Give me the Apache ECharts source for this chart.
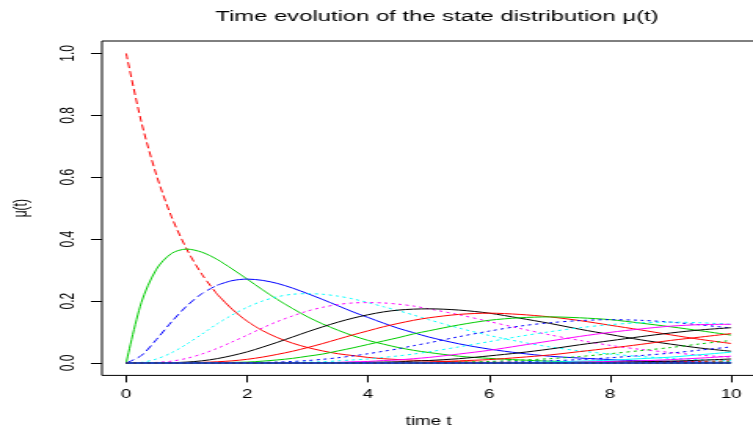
<!DOCTYPE html>
<html><head><meta charset="utf-8">
<script src="https://cdn.jsdelivr.net/npm/echarts@6/dist/echarts.min.js"></script>
<style>
html,body{margin:0;padding:0;background:#fff;overflow:hidden;width:753px;height:428px}
#wrap{width:480px;height:428px;transform:scaleX(1.56875);transform-origin:0 0;}
</style></head><body><div id="wrap"></div>
<script>
const times = [0,0.25,0.5,0.75,1,1.25,1.5,1.75,2,2.25,2.5,2.75,3,3.25,3.5,3.75,4,4.25,4.5,4.75,5,5.5,6,6.5,7,7.5,8,8.5,9,9.5,10];
const mu0 = [1,0.779,0.607,0.472,0.368,0.287,0.223,0.174,0.135,0.105,0.082,0.064,0.050,0.039,0.030,0.024,0.018,0.014,0.011,0.009,0.007,0.004,0.002,0.002,0.001,0.001,0,0,0,0,0];
const mu1 = [0,0.195,0.303,0.354,0.368,0.358,0.335,0.304,0.271,0.237,0.205,0.176,0.149,0.126,0.106,0.088,0.073,0.061,0.050,0.041,0.034,0.022,0.015,0.010,0.006,0.004,0.003,0.002,0.001,0.001,0];
const mu2 = [0,0.024,0.076,0.133,0.184,0.224,0.251,0.266,0.271,0.267,0.257,0.242,0.224,0.205,0.185,0.165,0.147,0.129,0.112,0.098,0.084,0.062,0.045,0.032,0.022,0.016,0.011,0.007,0.005,0.003,0.002];
const mu3 = [0,0.002,0.013,0.033,0.061,0.093,0.126,0.155,0.180,0.200,0.214,0.222,0.224,0.222,0.216,0.207,0.195,0.182,0.169,0.155,0.140,0.113,0.089,0.069,0.052,0.039,0.029,0.021,0.015,0.011,0.008];
const mu4 = [0,0,0.002,0.006,0.015,0.029,0.047,0.068,0.090,0.113,0.134,0.152,0.168,0.180,0.189,0.194,0.195,0.194,0.190,0.184,0.175,0.156,0.134,0.112,0.091,0.073,0.057,0.044,0.034,0.025,0.019];
const mu5 = [0,0,0,0.001,0.003,0.007,0.014,0.024,0.036,0.051,0.067,0.084,0.101,0.117,0.132,0.145,0.156,0.165,0.171,0.174,0.175,0.171,0.161,0.145,0.128,0.109,0.092,0.075,0.061,0.048,0.038];
const mu6 = [0,0,0,0,0.001,0.002,0.004,0.007,0.012,0.019,0.028,0.038,0.050,0.063,0.077,0.091,0.104,0.117,0.128,0.138,0.146,0.157,0.161,0.157,0.149,0.137,0.122,0.107,0.091,0.076,0.063];
const mu7 = [0,0,0,0,0,0,0.001,0.002,0.003,0.006,0.010,0.015,0.022,0.029,0.039,0.049,0.060,0.071,0.082,0.094,0.104,0.123,0.138,0.146,0.149,0.146,0.140,0.129,0.117,0.104,0.090];
const mu8 = [0,0,0,0,0,0,0,0,0.001,0.002,0.003,0.005,0.008,0.012,0.017,0.023,0.030,0.038,0.046,0.056,0.065,0.085,0.103,0.119,0.130,0.137,0.140,0.138,0.132,0.123,0.113];
const mu9 = [0,0,0,0,0,0,0,0,0,0,0.001,0.002,0.003,0.004,0.007,0.010,0.013,0.018,0.023,0.029,0.036,0.052,0.069,0.086,0.101,0.114,0.124,0.130,0.132,0.130,0.125];
const mu10 = [0,0,0,0,0,0,0,0,0,0,0,0,0.001,0.001,0.002,0.004,0.005,0.008,0.010,0.014,0.018,0.029,0.041,0.056,0.071,0.086,0.099,0.110,0.119,0.124,0.125];
const mu11 = [0,0,0,0,0,0,0,0,0,0,0,0,0,0,0.001,0.001,0.002,0.003,0.004,0.006,0.008,0.014,0.023,0.033,0.045,0.059,0.072,0.085,0.097,0.107,0.114];
const mu12 = [0,0,0,0,0,0,0,0,0,0,0,0,0,0,0,0,0.001,0.001,0.002,0.002,0.003,0.007,0.011,0.018,0.026,0.037,0.048,0.060,0.073,0.084,0.095];
const mu13 = [0,0,0,0,0,0,0,0,0,0,0,0,0,0,0,0,0,0,0.001,0.001,0.001,0.003,0.005,0.009,0.014,0.021,0.030,0.040,0.050,0.062,0.073];
const mu14 = [0,0,0,0,0,0,0,0,0,0,0,0,0,0,0,0,0,0,0,0,0,0.001,0.002,0.004,0.007,0.011,0.017,0.024,0.032,0.042,0.052];
const mu15 = [0,0,0,0,0,0,0,0,0,0,0,0,0,0,0,0,0,0,0,0,0,0,0.001,0.002,0.003,0.006,0.009,0.014,0.019,0.027,0.035];
const mu16 = [0,0,0,0,0,0,0,0,0,0,0,0,0,0,0,0,0,0,0,0,0,0,0,0.001,0.001,0.003,0.005,0.007,0.011,0.016,0.022];
const mu17 = [0,0,0,0,0,0,0,0,0,0,0,0,0,0,0,0,0,0,0,0,0,0,0,0,0.001,0.001,0.002,0.004,0.006,0.009,0.013];
const mu18 = [0,0,0,0,0,0,0,0,0,0,0,0,0,0,0,0,0,0,0,0,0,0,0,0,0,0,0.001,0.002,0.003,0.005,0.007];
const mu19 = [0,0,0,0,0,0,0,0,0,0,0,0,0,0,0,0,0,0,0,0,0,0,0,0,0,0,0,0.001,0.001,0.002,0.004];
const mu20 = [0,0,0,0,0,0,0,0,0,0,0,0,0,0,0,0,0,0,0,0,0,0,0,0,0,0,0,0,0.001,0.001,0.002];
const mu21 = [0,0,0,0,0,0,0,0,0,0,0,0,0,0,0,0,0,0,0,0,0,0,0,0,0,0,0,0,0,0,0.001];
const mu22 = [0,0,0,0,0,0,0,0,0,0,0,0,0,0,0,0,0,0,0,0,0,0,0,0,0,0,0,0,0,0,0];
const mu23 = [0,0,0,0,0,0,0,0,0,0,0,0,0,0,0,0,0,0,0,0,0,0,0,0,0,0,0,0,0,0,0];
const mu24 = [0,0,0,0,0,0,0,0,0,0,0,0,0,0,0,0,0,0,0,0,0,0,0,0,0,0,0,0,0,0,0];
const mu25 = [0,0,0,0,0,0,0,0,0,0,0,0,0,0,0,0,0,0,0,0,0,0,0,0,0,0,0,0,0,0,0];
const mu26 = [0,0,0,0,0,0,0,0,0,0,0,0,0,0,0,0,0,0,0,0,0,0,0,0,0,0,0,0,0,0,0];
const xTicks = [0,2,4,6,8,10];
const yTicks = [0,0.2,0.4,0.6,0.8,1.0];
const titleText = 'Time evolution of the state distribution μ(t)';
const xLabel = 'time t';
const yLabel = 'μ(t)';

const curves = [mu0,mu1,mu2,mu3,mu4,mu5,mu6,mu7,mu8,mu9,mu10,mu11,mu12,mu13,mu14,mu15,mu16,mu17,mu18,mu19,mu20,mu21,mu22,mu23,mu24,mu25,mu26];
const palette = ['#FF0000','#00CD00','#0000FF','#00FFFF','#FF00FF','#000000'];
const ltyCycle = ['dashed','solid','dashed','dotted','dotted'];
const dashSplit = {0:1.5, 2:1.5};
const FONT = 'Liberation Sans, Arial, Helvetica, sans-serif';

const series = [];
curves.forEach((vals,k)=>{
  const color = palette[k%6];
  const lty = ltyCycle[k%5];
  const pts = times.map((t,i)=>[t, vals[i]]);
  const base = {type:'line', showSymbol:false, symbol:'none', smooth:0.3, silent:true, animation:false};
  if (dashSplit[k] !== undefined) {
    const c = dashSplit[k];
    series.push(Object.assign({}, base, {data: pts.filter(p=>p[0]<=c), lineStyle:{color, width:1, type:[6,3]}}));
    series.push(Object.assign({}, base, {data: pts.filter(p=>p[0]>=c), lineStyle:{color, width:1, type:'solid'}}));
  } else {
    series.push(Object.assign({}, base, {data: pts, lineStyle:{color, width:1, type: lty==='dotted' ? [2,2.5] : 'solid'}}));
  }
});

const chart = echarts.init(document.getElementById('wrap'), null, {renderer:'canvas', width:480, height:428});
chart.setOption({
  animation:false,
  backgroundColor:'#ffffff',
  title:{text:titleText, left:273.5, textAlign:'center', top:4,
    textStyle:{fontFamily:FONT, fontSize:15.2, fontWeight:'normal', color:'#000'}},
  grid:{left:65, right:-1.5, top:41, bottom:52.6, containLabel:false, outerBoundsMode:'none',
    show:true, borderColor:'#000', borderWidth:1, backgroundColor:'transparent'},
  xAxis:{type:'value', min:-0.4, max:10.4,
    axisLine:{show:false, onZero:false},
    axisTick:{show:true, length:7, lineStyle:{color:'#000', width:1}, customValues:xTicks},
    axisLabel:{customValues:xTicks, margin:13, fontFamily:FONT, fontSize:12, color:'#000', formatter:v=>String(v)},
    splitLine:{show:false},
    name:xLabel, nameLocation:'middle', nameGap:40,
    nameTextStyle:{fontFamily:FONT, fontSize:12, color:'#000'}},
  yAxis:{type:'value', min:-0.04, max:1.04,
    axisLine:{show:false, onZero:false},
    axisTick:{show:true, length:7, lineStyle:{color:'#000', width:1}, customValues:yTicks},
    axisLabel:{customValues:yTicks, rotate:90, margin:15, fontFamily:FONT, fontSize:12, color:'#000', formatter:v=>v.toFixed(1)},
    splitLine:{show:false},
    name:yLabel, nameLocation:'middle', nameGap:45,
    nameTextStyle:{fontFamily:FONT, fontSize:12, color:'#000'}},
  series
});
</script></body></html>
